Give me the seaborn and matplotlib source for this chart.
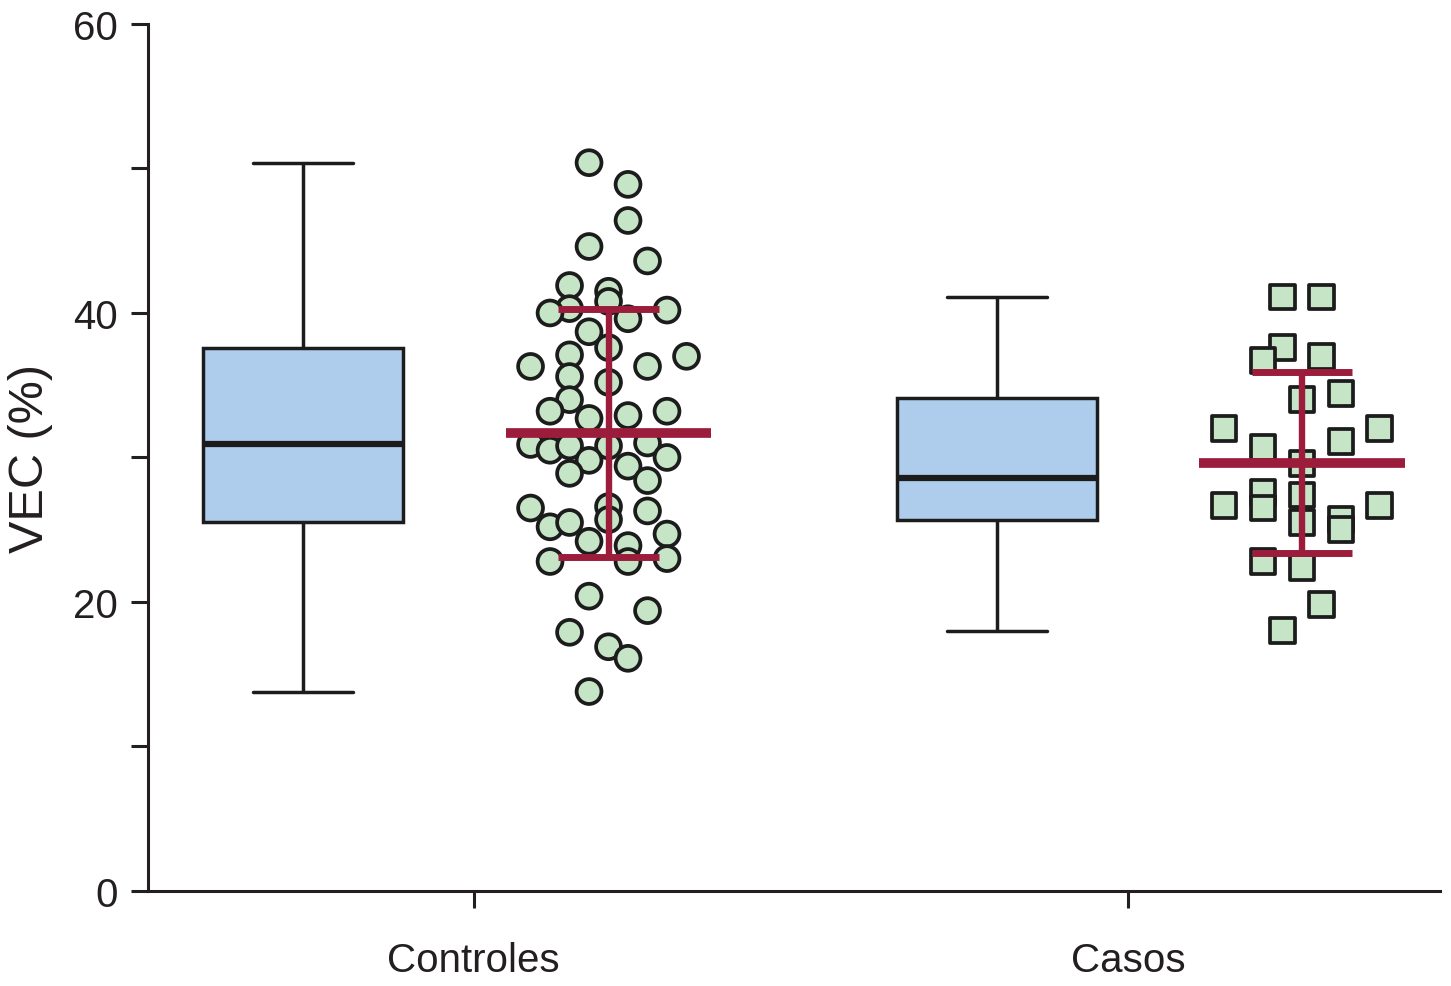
import numpy as np
import pandas as pd
import matplotlib
matplotlib.use("Agg")
import matplotlib.pyplot as plt
import seaborn as sns

# values (VEC %)
groups = ["Controles", "Casos"]

ctrl_vals = [50.4, 48.9, 46.4, 44.6, 43.6, 41.9, 41.5, 40.3, 40.8, 40.0,
             39.6, 40.2, 38.7, 37.1, 37.6, 37.0, 36.3, 36.3, 35.6, 35.2,
             34.0, 33.2, 32.7, 32.9, 33.2, 30.9, 30.5, 30.8, 30.8, 31.0,
             29.8, 30.0, 29.4, 28.9, 28.4, 26.5, 26.6, 26.3, 25.7, 25.2,
             25.5, 24.2, 23.9, 24.7, 22.8, 22.8, 23.0, 20.4, 19.4, 17.9,
             16.9, 16.1, 13.8]
# jitter column of each point (as laid out in the original)
ctrl_cols = [-1, 1, 1, -1, 2, -2, 0, -2, 0, -3,
             1, 3, -1, -2, 0, 4, -4, 2, -2, 0,
             -2, -3, -1, 1, 3, -4, -3, -2, 0, 2,
             -1, 3, 1, -2, 2, -4, 0, 2, 0, -3,
             -2, -1, 1, 3, -3, 1, 3, -1, 2, -2,
             0, 1, -1]

case_vals = [41.1, 41.1, 37.6, 36.7, 37.0, 34.0, 34.4, 32.0, 32.0, 30.7,
             31.1, 29.6, 27.6, 26.5, 26.7, 27.4, 25.5, 26.7, 25.7, 25.0,
             22.8, 22.4, 19.8, 18.0]
case_cols = [-1, 1, -1, -2, 1, 0, 2, -4, 4, -2,
             2, 0, -2, -2, -4, 0, 0, 4, 2, 2,
             -2, 0, 1, -1]

# layout
box_pos = {"Controles": -0.261, "Casos": 0.800}
dot_pos = {"Controles": 0.206, "Casos": 1.266}
col_step = 0.0298

box_color = "#aecdec"
dot_color = "#c6e4c6"
edge = "#1c1c1c"
bar_color = "#9b1d3b"

df = pd.DataFrame({
    "group": ["Controles"] * len(ctrl_vals) + ["Casos"] * len(case_vals),
    "value": ctrl_vals + case_vals,
    "col": ctrl_cols + case_cols,
})
df["box_x"] = df["group"].map(box_pos)
df["dot_x"] = df["group"].map(dot_pos) + df["col"] * col_step

sns.set_style("ticks")
plt.rcParams["font.family"] = ["Liberation Sans", "DejaVu Sans"]

fig = plt.figure(figsize=(14.51, 9.87), dpi=100)
ax = fig.add_axes([0.102, 0.0963, 0.8904, 0.8784])

sns.boxplot(data=df, x="box_x", y="value", native_scale=True, whis=(0, 100),
            width=0.288, color=box_color, saturation=1, linecolor=edge,
            linewidth=2.5, showfliers=False, ax=ax,
            medianprops={"linewidth": 4.5, "color": edge})

sns.scatterplot(data=df, x="dot_x", y="value", style="group",
                markers={"Controles": "o", "Casos": "s"}, s=320,
                color=dot_color, edgecolor=edge, linewidth=2.7,
                legend=False, zorder=3, ax=ax)

# mean +/- SD
for g in groups:
    v = df.loc[df["group"] == g, "value"]
    m, sd = v.mean(), v.std()
    x0 = dot_pos[g]
    ax.vlines(x0, m - sd, m + sd, color=bar_color, lw=4.6, zorder=4)
    ax.hlines([m - sd, m + sd], x0 - 0.077, x0 + 0.077, color=bar_color, lw=5, zorder=4)
    ax.hlines(m, x0 - 0.157, x0 + 0.157, color=bar_color, lw=7, zorder=5)

ax.set_xlim(-0.498, 1.477)
ax.set_ylim(0, 60)
ax.set_xticks([0, 1])
ax.set_xticklabels(groups)
ax.set_yticks([0, 10, 20, 30, 40, 50, 60])
ax.set_yticklabels(["0", "", "20", "", "40", "", "60"])
ax.set_xlabel("")
ax.set_ylabel("VEC (%)", fontsize=35, labelpad=14, color="#231f20")

for s in ["top", "right"]:
    ax.spines[s].set_visible(False)
for s in ["left", "bottom"]:
    ax.spines[s].set_linewidth(2.2)
    ax.spines[s].set_color("#231f20")
ax.tick_params(axis="both", length=12, width=2.2, color="#231f20",
               labelsize=29, labelcolor="#231f20")
ax.tick_params(axis="x", pad=24)
ax.tick_params(axis="y", pad=10)

fig.savefig("out.png", dpi=100)
